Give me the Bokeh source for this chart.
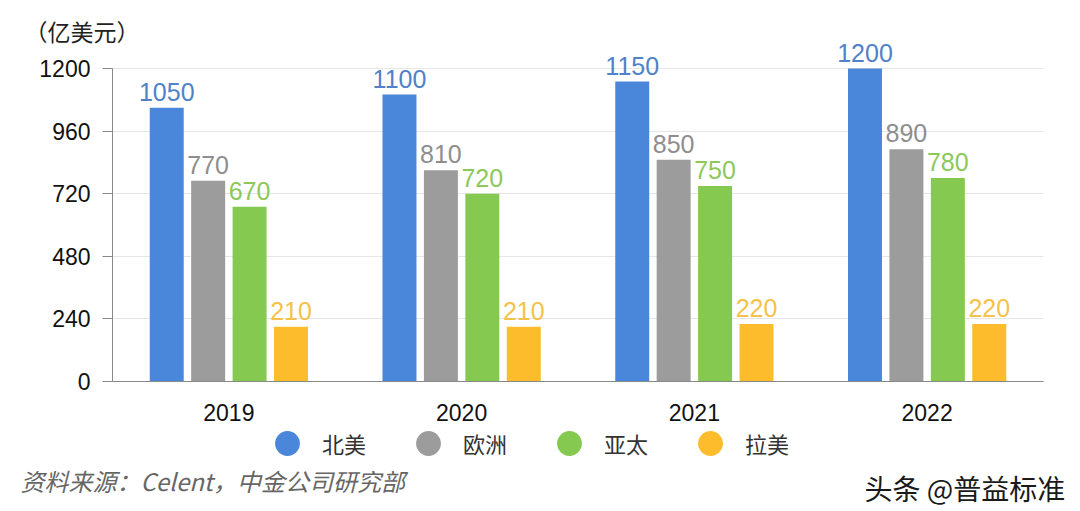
from bokeh.plotting import figure
from bokeh.models import (ColumnDataSource, LabelSet, Label, Legend, LegendItem,
                          Range1d, FixedTicker)
from bokeh.embed import file_html
from bokeh.resources import INLINE
from bokeh.core.properties import value

years = ["2019", "2020", "2021", "2022"]
regions = ["北美", "欧洲", "亚太", "拉美"]
north_america = [1050, 1100, 1150, 1200]
europe = [770, 810, 850, 890]
asia_pacific = [670, 720, 750, 780]
latin_america = [210, 210, 220, 220]
y_ticks = [0, 240, 480, 720, 960, 1200]

series = [north_america, europe, asia_pacific, latin_america]
bar_colors = ["#4A86DA", "#9C9C9C", "#86C950", "#FDBC2C"]
label_colors = ["#4F82C8", "#8E8E8E", "#8CC85A", "#F4C24A"]
offsets = [-0.267, -0.089, 0.089, 0.267]

FONT = "Noto Sans CJK SC"
NUM_FONT = "Liberation Sans"

W, H = 1080, 511
# frame spans whole canvas; axes are pinned inside it
centers = [i + 0.5 for i in range(len(years))]
px_per_cat = (1043 - 112) / len(years)
x_start = -112 / px_per_cat
x_end = len(years) + (W - 1043) / px_per_cat
units_per_px = 1200 / (381 - 68)
y_start = -(H - 381) * units_per_px
y_end = 1200 + 68 * units_per_px

p = figure(x_range=Range1d(x_start, x_end), y_range=Range1d(y_start, y_end),
           width=W, height=H, output_backend="svg", toolbar_location=None,
           min_border=0)
p.outline_line_color = None
p.background_fill_color = "white"
p.border_fill_color = "white"

legend_items = []
for name, vals, c, lc, off in zip(regions, series, bar_colors, label_colors, offsets):
    xs = [cx + off for cx in centers]
    src = ColumnDataSource(dict(x=xs, y=vals, t=[str(v) for v in vals]))
    p.vbar(x="x", top="y", width=0.146, source=src, fill_color=c, line_color=None)
    p.add_layout(LabelSet(x="x", y="y", text="t", source=src,
                          text_align="center", text_baseline="alphabetic",
                          y_offset=7, text_color=lc, text_font_size="25px",
                          text_font=value(NUM_FONT)))
    dummy = p.scatter(x=[float("nan")], y=[float("nan")], marker="circle",
                      fill_color=c, line_color=None, size=10)
    legend_items.append(LegendItem(label=name, renderers=[dummy]))

legend = Legend(items=legend_items, orientation="horizontal",
                location=(256, 37), glyph_width=62, glyph_height=62,
                label_standoff=4, spacing=31, padding=0, margin=0,
                border_line_color=None, background_fill_alpha=0,
                label_text_font_size="22px", label_text_color="#333333",
                label_text_font=FONT)
p.add_layout(legend, "center")

# axes pinned at data origin
p.yaxis.fixed_location = 0
p.yaxis.bounds = (0, 1200)
p.yaxis.ticker = FixedTicker(ticks=y_ticks)
p.yaxis.axis_line_color = "#888888"
p.yaxis.major_tick_line_color = "#888888"
p.yaxis.major_tick_out = 10
p.yaxis.major_tick_in = 0
p.yaxis.minor_tick_line_color = None
p.yaxis.major_label_text_font_size = "23px"
p.yaxis.major_label_text_color = "#111111"
p.yaxis.major_label_text_font = NUM_FONT
p.yaxis.major_label_standoff = 12

p.xaxis.fixed_location = 0
p.xaxis.bounds = (0, len(years))
p.xaxis.ticker = FixedTicker(ticks=centers)
p.xaxis.major_label_overrides = {c: y for c, y in zip(centers, years)}
p.xaxis.axis_line_color = "#888888"
p.xaxis.major_tick_line_color = None
p.xaxis.minor_tick_line_color = None
p.xaxis.major_label_text_font_size = "23px"
p.xaxis.major_label_text_color = "#111111"
p.xaxis.major_label_text_font = NUM_FONT
p.xaxis.major_label_standoff = 16

p.xgrid.grid_line_color = None
p.ygrid.grid_line_color = "#E6E6E6"
p.ygrid.grid_line_width = 1
p.ygrid.cross_bounds = (0, len(years))

# texts (screen units from frame bottom-left == canvas bottom-left)
p.add_layout(Label(x=24, y=H - 30, x_units="screen", y_units="screen",
                   text="（亿美元）", text_font=FONT, text_font_size="23px",
                   text_color="#222222", text_baseline="middle"))
p.add_layout(Label(x=20, y=H - 480, x_units="screen", y_units="screen",
                   text="资料来源：Celent，中金公司研究部", text_font=FONT,
                   text_font_size="24px", text_font_style="italic",
                   text_color="#666666", text_baseline="middle"))
p.add_layout(Label(x=864, y=H - 487, x_units="screen", y_units="screen",
                   text="头条 @普益标准", text_font=FONT,
                   text_font_size="28px", text_color="#1A1A1A",
                   text_baseline="middle"))

open("out.html", "w").write(file_html(p, INLINE))
